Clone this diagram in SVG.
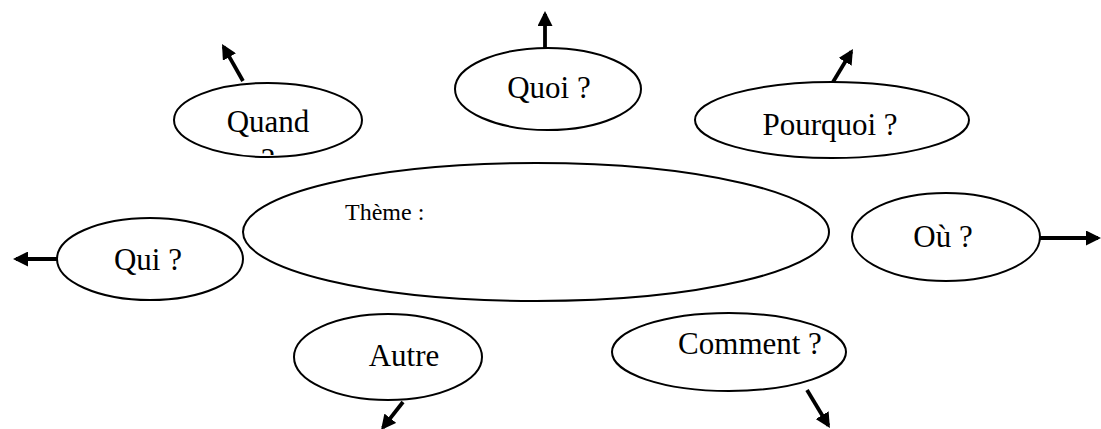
<svg xmlns="http://www.w3.org/2000/svg" width="1101" height="429" viewBox="0 0 1101 429">
<style>
.n{fill:#fff;stroke:#000;stroke-width:2}
.t{font-family:"Liberation Serif","Times New Roman",serif;font-size:31px;fill:#000;text-anchor:middle}
.a{stroke:#000;stroke-width:3.8;fill:none;marker-end:url(#ah)}
</style>
<defs>
<marker id="ah" viewBox="0 0 15 15" refX="12" refY="7.5" markerWidth="15" markerHeight="15" markerUnits="userSpaceOnUse" orient="auto">
<path d="M0,0 L15,7.5 L0,15 z" fill="#000"/>
</marker>
<clipPath id="qc"><rect x="0" y="0" width="1101" height="155"/></clipPath>
</defs>
<rect width="1101" height="429" fill="#fff"/>
<g id="connectors">
<line class="a" x1="243" y1="81" x2="223.5" y2="46.6"/>
<line class="a" x1="545" y1="48" x2="545" y2="14"/>
<line class="a" x1="830" y1="87" x2="851.4" y2="51.6"/>
<line class="a" x1="57" y1="259" x2="16" y2="259"/>
<line class="a" x1="1040" y1="238" x2="1098" y2="238"/>
<line class="a" x1="403" y1="402" x2="382.9" y2="427.6"/>
<line class="a" x1="807" y1="390" x2="828.4" y2="425.4"/>
</g>
<g id="quand">
<ellipse class="n" cx="268" cy="120" rx="94" ry="37"/>
<text class="t" x="268" y="132">Quand</text>
<text class="t" x="268" y="170" clip-path="url(#qc)">?</text>
</g>
<g id="quoi">
<ellipse class="n" cx="548" cy="89" rx="93" ry="41"/>
<text class="t" x="549" y="98">Quoi ?</text>
</g>
<g id="pourquoi">
<ellipse class="n" cx="832" cy="120" rx="137" ry="38"/>
<text class="t" x="830" y="135">Pourquoi ?</text>
</g>
<g id="qui">
<ellipse class="n" cx="150" cy="259" rx="93" ry="41"/>
<text class="t" x="148" y="270">Qui ?</text>
</g>
<g id="theme">
<ellipse class="n" cx="536" cy="232" rx="293" ry="69"/>
<text class="t" x="345" y="220" style="font-size:24px;text-anchor:start">Thème :</text>
</g>
<g id="ou">
<ellipse class="n" cx="946" cy="237" rx="94" ry="44"/>
<text class="t" x="943" y="247">Où ?</text>
</g>
<g id="autre">
<ellipse class="n" cx="388" cy="357" rx="94" ry="43"/>
<text class="t" x="404" y="366">Autre</text>
</g>
<g id="comment">
<ellipse class="n" cx="729" cy="352" rx="117" ry="39"/>
<text class="t" x="750" y="354">Comment ?</text>
</g>
</svg>
